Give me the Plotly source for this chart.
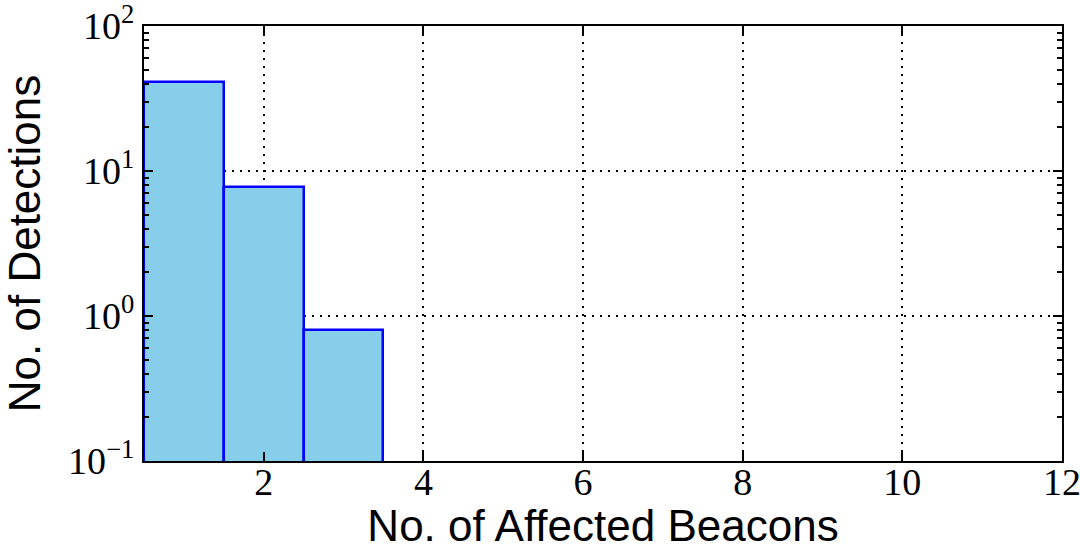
import plotly.graph_objects as go

# histogram of affected beacons per detection
beacons = [1, 2, 3]
detections = [41, 7.8, 0.8]

x_ticks = [2, 4, 6, 8, 10, 12]
y_ticks = [0.1, 1, 10, 100]
y_labels = ["10<sup>\u22121</sup>", "10<sup>0</sup>", "10<sup>1</sup>", "10<sup>2</sup>"]
y_minor = [m * d for d in (0.1, 1, 10) for m in range(2, 10)]

fig = go.Figure()
fig.add_trace(go.Bar(x=beacons, y=detections, width=1,
                     marker=dict(color="#87CEEB", line=dict(color="#0000FF", width=2.5))))

tickfont = dict(family="Liberation Serif, DejaVu Serif, serif", size=38, color="black")
titlefont = dict(family="Liberation Sans, Arial, sans-serif", size=44, color="black")

fig.update_xaxes(range=[0.5, 12.0005], tickvals=x_ticks, ticks="inside", ticklen=9, tickwidth=1.5,
                 tickcolor="black", showline=True, linewidth=2, linecolor="black", mirror="allticks",
                 showgrid=True, gridcolor="black", griddash="2px,6px", gridwidth=1.5,
                 tickfont=tickfont, automargin=False, ticklabeloverflow="allow",
                 ticklabelstandoff=-14,
                 title=dict(text="No. of Affected Beacons", font=titlefont, standoff=6),
                 zeroline=False)
fig.update_yaxes(type="log", range=[-1.0002, 2.0002], tickvals=y_ticks, ticktext=y_labels,
                 ticks="inside", ticklen=9, tickwidth=1.5, tickcolor="black",
                 minor=dict(tickvals=y_minor, ticks="inside", ticklen=5, tickwidth=1.5,
                            tickcolor="black", showgrid=False),
                 showline=True, linewidth=2, linecolor="black", mirror="allticks",
                 showgrid=True, gridcolor="black", griddash="2px,6px", gridwidth=1.5,
                 tickfont=tickfont, automargin=False, ticklabeloverflow="allow",
                 title=dict(text="No. of Detections", font=titlefont, standoff=25),
                 zeroline=False)

fig.update_layout(width=1080, height=550, margin=dict(l=144, r=18, t=26, b=89),
                  plot_bgcolor="white", paper_bgcolor="white", showlegend=False, bargap=0)

# drop the default 8px page margin so the figure fills the window
fig.write_html("out.html", config={"displayModeBar": False},
               post_script="document.body.style.margin='0';")
